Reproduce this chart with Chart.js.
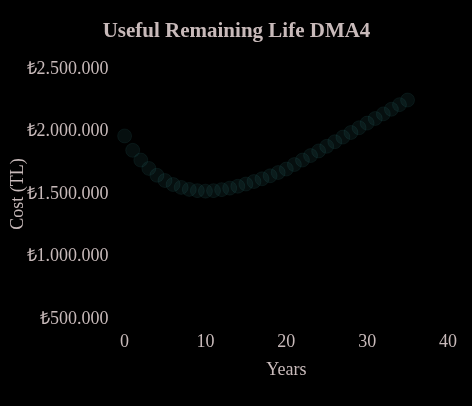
<!DOCTYPE html>
<html>
<head>
    <title>Useful Remaining Life DMA4</title>
    <style>
        body {
            margin: 0;
            background-color: #000;
        }

        #chart-container {
            width: 472px;
            height: 406px;
        }
    </style>
</head>
<body>
    <div id="chart-container">
        <canvas id="chart"></canvas>
    </div>

    <script src="https://cdn.jsdelivr.net/npm/chart.js"></script>
    <script>
        // years 0..35 and total cost (TL)
        const years = [0, 1, 2, 3, 4, 5, 6, 7, 8, 9, 10, 11, 12, 13, 14, 15, 16, 17,
            18, 19, 20, 21, 22, 23, 24, 25, 26, 27, 28, 29, 30, 31, 32, 33, 34, 35];
        const costs = [1965000, 1850000, 1772000, 1705000, 1650000, 1608000, 1576000,
            1553000, 1537000, 1527000, 1523000, 1527000, 1535000, 1547000, 1562000,
            1580000, 1600000, 1622000, 1646000, 1672000, 1700000, 1736000, 1772000,
            1808000, 1845000, 1882000, 1919000, 1956000, 1993000, 2031000, 2068000,
            2105000, 2142000, 2179000, 2216000, 2253000];
        const xTicks = [0, 10, 20, 30, 40];
        const yTicks = [500000, 1000000, 1500000, 2000000, 2500000];

        const textColor = 'rgb(200, 186, 186)';
        const fontFamily = '"Liberation Serif", "Times New Roman", serif';

        const points = years.map((y, i) => ({ x: y, y: costs[i] }));

        const ctx = document.getElementById('chart').getContext('2d');
        const chart = new Chart(ctx, {
            type: 'scatter',
            data: {
                datasets: [{
                    label: 'Cost',
                    data: points,
                    backgroundColor: 'rgba(75, 192, 192, 0.08)',
                    borderColor: 'rgba(75, 192, 192, 0.08)',
                    borderWidth: 1,
                    pointRadius: 7,
                    clip: false
                }]
            },
            options: {
                responsive: true,
                maintainAspectRatio: false,
                animation: false,
                layout: {
                    padding: { left: 3, right: 2, top: 0, bottom: 25 }
                },
                plugins: {
                    legend: { display: false },
                    tooltip: { enabled: false },
                    title: {
                        display: true,
                        text: 'Useful Remaining Life DMA4',
                        color: textColor,
                        font: { family: fontFamily, size: 21, weight: 'bold' },
                        padding: { top: 19, bottom: 25 }
                    }
                },
                scales: {
                    x: {
                        type: 'linear',
                        min: xTicks[0],
                        max: xTicks[xTicks.length - 1],
                        afterBuildTicks: function (axis) {
                            axis.ticks = xTicks.map(v => ({ value: v }));
                        },
                        // keep the plot's right edge in from the canvas, title stays centred
                        afterFit: function (axis) {
                            axis.paddingRight = 24;
                        },
                        grid: { display: false, drawTicks: false },
                        border: { display: false },
                        ticks: {
                            color: textColor,
                            padding: 13,
                            font: { family: fontFamily, size: 18 }
                        },
                        title: {
                            display: true,
                            text: 'Years',
                            color: textColor,
                            font: { family: fontFamily, size: 18 },
                            padding: { top: -7, bottom: 0 }
                        }
                    },
                    y: {
                        min: yTicks[0],
                        max: yTicks[yTicks.length - 1],
                        afterBuildTicks: function (axis) {
                            axis.ticks = yTicks.map(v => ({ value: v }));
                        },
                        grid: { display: false, drawTicks: false },
                        border: { display: false },
                        ticks: {
                            color: textColor,
                            padding: 16,
                            font: { family: fontFamily, size: 18 },
                            callback: function (value) {
                                return '₺' + value.toLocaleString('tr-TR');
                            }
                        },
                        title: {
                            display: true,
                            text: 'Cost (TL)',
                            color: textColor,
                            font: { family: fontFamily, size: 18 },
                            padding: { top: 4, bottom: -18 }
                        }
                    }
                }
            }
        });
    </script>
</body>
</html>
